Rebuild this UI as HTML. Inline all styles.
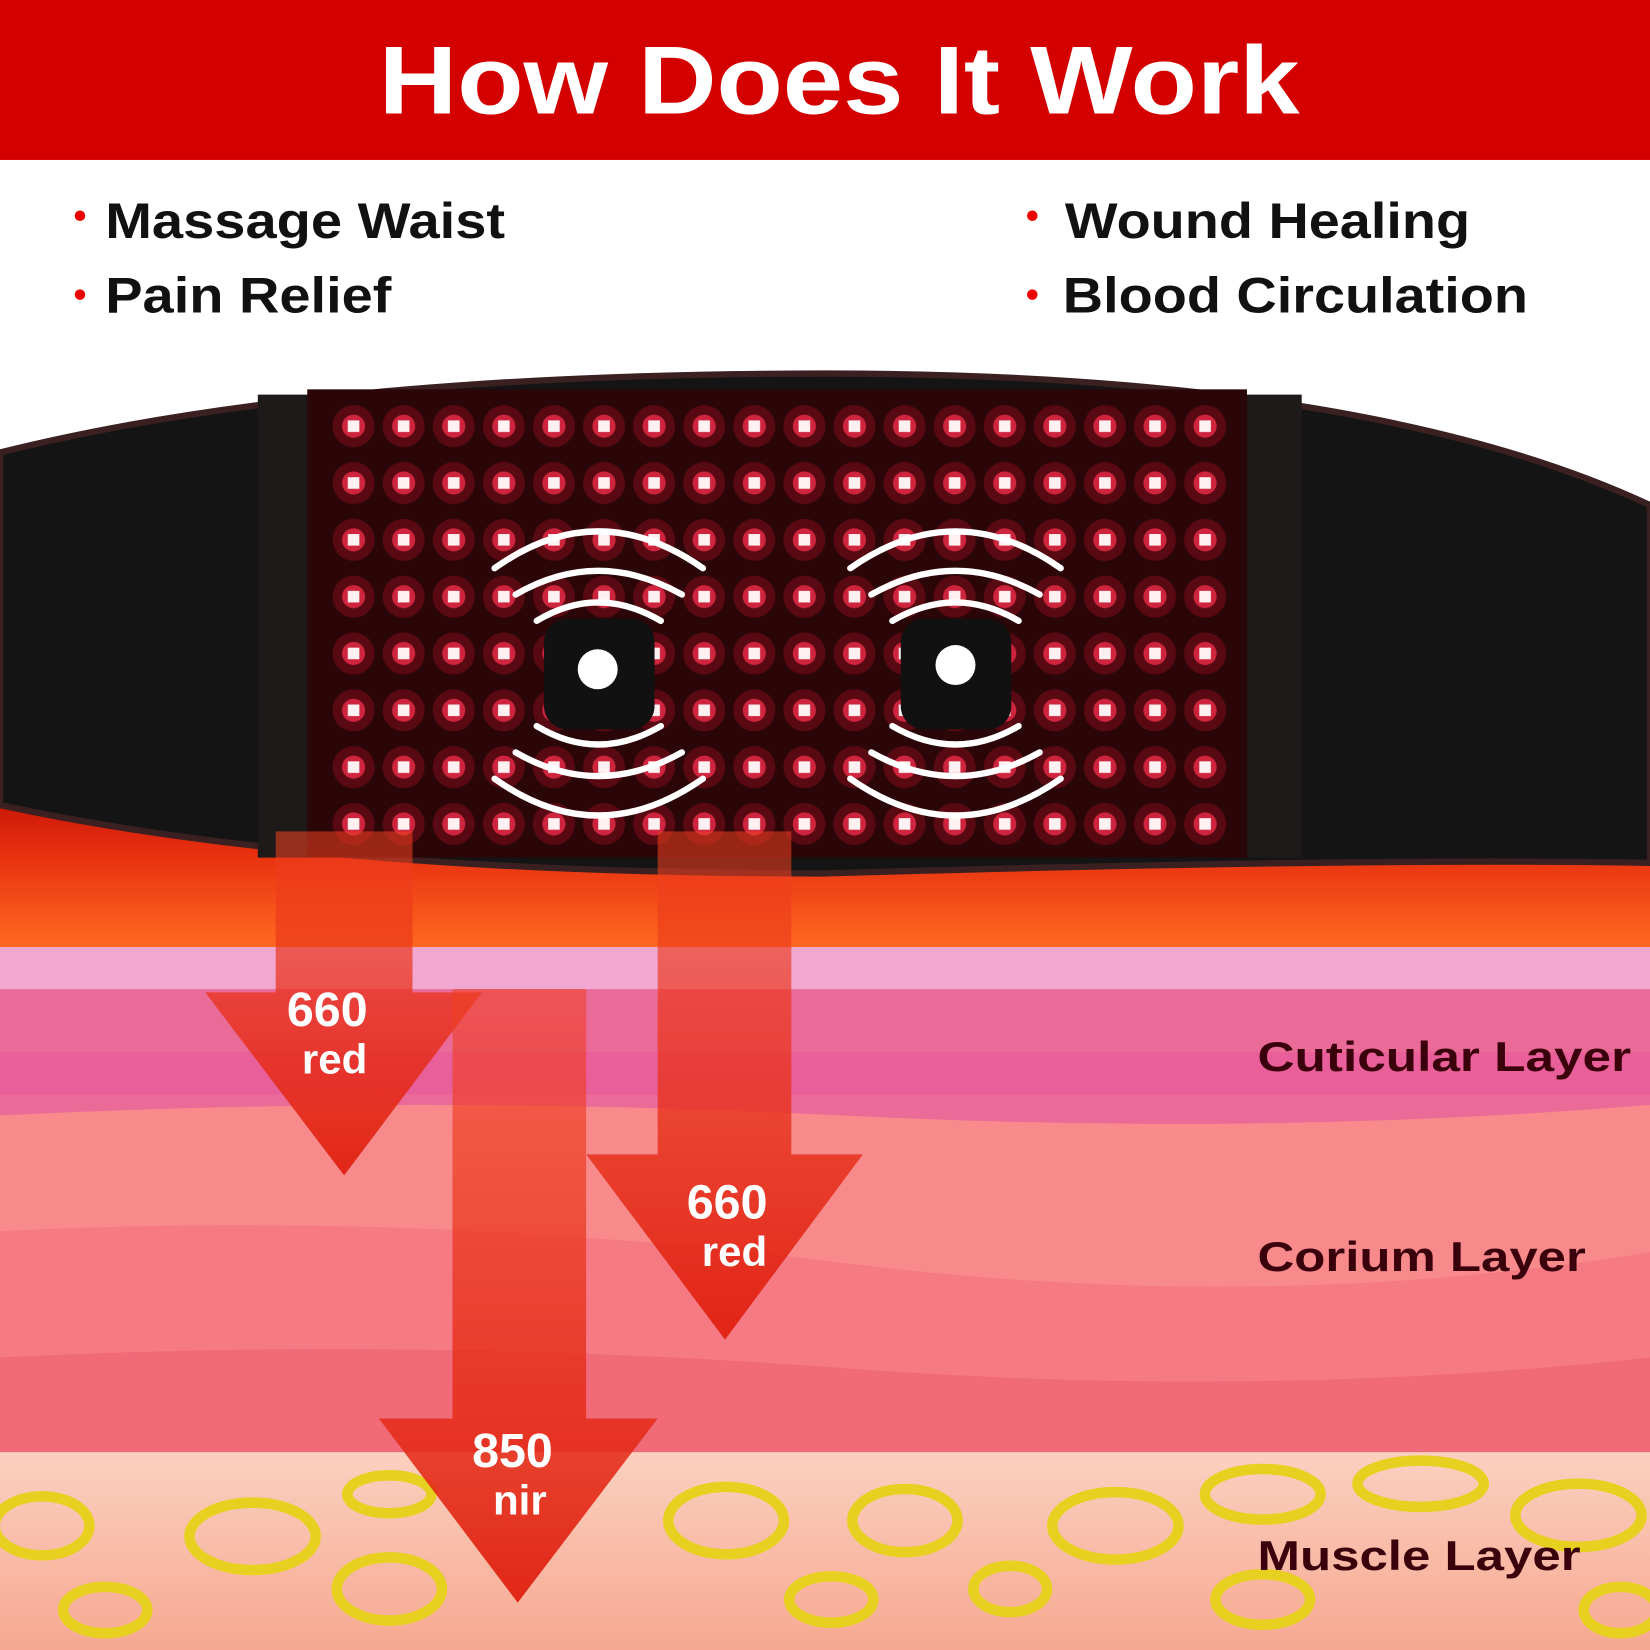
<!DOCTYPE html>
<html><head><meta charset="utf-8"><style>
html,body{margin:0;padding:0;background:#fff;}
svg{display:block;}
</style></head><body>
<svg width="1650" height="1650" viewBox="0 0 1568 1568" xmlns="http://www.w3.org/2000/svg" font-family="Liberation Sans, sans-serif">
<defs>
<linearGradient id="glow" x1="0" y1="0" x2="0" y2="1">
<stop offset="0" stop-color="#b00000"/><stop offset="0.5" stop-color="#e83010"/><stop offset="1" stop-color="#ff6a20"/>
</linearGradient>
<linearGradient id="musc" x1="0" y1="0" x2="0" y2="1">
<stop offset="0" stop-color="#fbd0c0"/><stop offset="1" stop-color="#f6a890"/>
</linearGradient>
<linearGradient id="arr" x1="0" y1="0" x2="0" y2="1"><stop offset="0" stop-color="#f04020" stop-opacity="0.55"/><stop offset="1" stop-color="#e02010" stop-opacity="0.95"/></linearGradient>
<pattern id="ledp" patternUnits="userSpaceOnUse" x="312" y="381" width="47.6" height="54">
<circle cx="24" cy="24" r="20" fill="#ff1030" opacity="0.22"/>
<circle cx="24" cy="24" r="11" fill="#ff3050" opacity="0.7"/>
<rect x="18.5" y="18.5" width="11" height="11" fill="#fff0f2"/>
</pattern>
</defs>
<rect x="0" y="0" width="1568" height="152" fill="#d40000"/>
<text x="360" y="108" textLength="875" lengthAdjust="spacingAndGlyphs" font-size="92" font-weight="bold" fill="#fff">How Does It Work</text>
<g font-size="48" font-weight="bold" fill="#111">
<circle cx="76" cy="205" r="5" fill="#e00"/><text x="100" y="226" textLength="380" lengthAdjust="spacingAndGlyphs">Massage Waist</text>
<circle cx="76" cy="280" r="5" fill="#e00"/><text x="100" y="297" textLength="272" lengthAdjust="spacingAndGlyphs">Pain Relief</text>
<circle cx="981" cy="205" r="5" fill="#e00"/><text x="1012" y="226" textLength="385" lengthAdjust="spacingAndGlyphs">Wound Healing</text>
<circle cx="981" cy="280" r="5" fill="#e00"/><text x="1010" y="297" textLength="442" lengthAdjust="spacingAndGlyphs">Blood Circulation</text>
</g>
<rect x="0" y="720" width="1568" height="182" fill="url(#glow)"/>
<rect x="0" y="900" width="1568" height="180" fill="#ea6a98"/>
<rect x="0" y="900" width="1568" height="40" fill="#f0a8d0"/>
<rect x="0" y="1000" width="1568" height="40" fill="#e8589a" opacity="0.6"/>
<path d="M0 1060 Q400 1040 800 1060 T1568 1050 V1390 H0Z" fill="#f88a8c"/>
<path d="M0 1170 Q400 1150 800 1200 T1568 1190 V1390 H0Z" fill="#f67a84"/>
<path d="M0 1290 Q400 1270 800 1300 T1568 1290 V1390 H0Z" fill="#f06a78"/>
<rect x="0" y="1380" width="1568" height="188" fill="url(#musc)"/>
<g fill="none" stroke="#e8d020" stroke-width="10">
<ellipse cx="40" cy="1450" rx="45" ry="28"/><ellipse cx="100" cy="1530" rx="40" ry="22"/><ellipse cx="240" cy="1460" rx="60" ry="32"/>
<ellipse cx="370" cy="1510" rx="50" ry="30"/><ellipse cx="370" cy="1420" rx="40" ry="18"/><ellipse cx="690" cy="1445" rx="55" ry="32"/>
<ellipse cx="790" cy="1520" rx="40" ry="22"/><ellipse cx="860" cy="1445" rx="50" ry="30"/><ellipse cx="960" cy="1510" rx="35" ry="22"/>
<ellipse cx="1060" cy="1450" rx="60" ry="32"/><ellipse cx="1200" cy="1420" rx="55" ry="24"/><ellipse cx="1350" cy="1410" rx="60" ry="22"/>
<ellipse cx="1500" cy="1440" rx="60" ry="30"/><ellipse cx="1540" cy="1530" rx="35" ry="22"/><ellipse cx="1200" cy="1520" rx="45" ry="24"/>
</g>
<path d="M0 430 Q300 355 784 355 Q1300 355 1568 480 V820 Q1300 815 784 830 Q300 830 0 765Z" fill="#141414" stroke="#3a2020" stroke-width="6"/>
<rect x="245" y="375" width="50" height="440" fill="#1e1a1a"/>
<rect x="1185" y="375" width="52" height="440" fill="#1e1a1a"/>
<rect x="292" y="370" width="893" height="445" fill="#2a0608"/>
<rect x="312" y="381" width="858" height="428" fill="url(#ledp)"/>
<g fill="none" stroke="#fff" stroke-width="6" stroke-linecap="round">
<path d="M470 540 Q568 470 668 540"/><path d="M490 565 Q568 520 648 565"/><path d="M510 590 Q568 555 628 590"/>
<path d="M470 740 Q568 810 668 740"/><path d="M490 715 Q568 760 648 715"/><path d="M510 690 Q568 725 628 690"/>
<path d="M808 540 Q908 470 1008 540"/><path d="M828 565 Q908 520 988 565"/><path d="M848 590 Q908 555 968 590"/>
<path d="M808 740 Q908 810 1008 740"/><path d="M828 715 Q908 760 988 715"/><path d="M848 690 Q908 725 968 690"/>
</g>
<rect x="517" y="588" width="105" height="105" rx="22" fill="#111"/>
<rect x="856" y="588" width="105" height="105" rx="22" fill="#111"/>
<circle cx="568" cy="636" r="19" fill="#fff"/><circle cx="908" cy="632" r="19" fill="#fff"/>
<path d="M262 790 H392 V943 H458 L327 1117 L195 943 H262Z" fill="url(#arr)"/>
<path d="M625 790 H752 V1097 H820 L689 1273 L557 1097 H625Z" fill="url(#arr)"/>
<path d="M430 940 H557 V1348 H625 L492 1523 L360 1348 H430Z" fill="url(#arr)"/>
<g font-size="46" font-weight="bold" fill="#fff" text-anchor="middle">
<text x="311" y="975">660</text><text x="318" y="1020" font-size="40">red</text>
<text x="691" y="1158">660</text><text x="698" y="1203" font-size="40">red</text>
<text x="487" y="1394">850</text><text x="494" y="1439" font-size="40">nir</text>
</g>
<g font-size="40" font-weight="bold" fill="#3a000c">
<text x="1195" y="1018" textLength="355" lengthAdjust="spacingAndGlyphs">Cuticular Layer</text>
<text x="1195" y="1208" textLength="312" lengthAdjust="spacingAndGlyphs">Corium Layer</text>
<text x="1195" y="1492" textLength="307" lengthAdjust="spacingAndGlyphs">Muscle Layer</text>
</g>
</svg>
</body></html>
